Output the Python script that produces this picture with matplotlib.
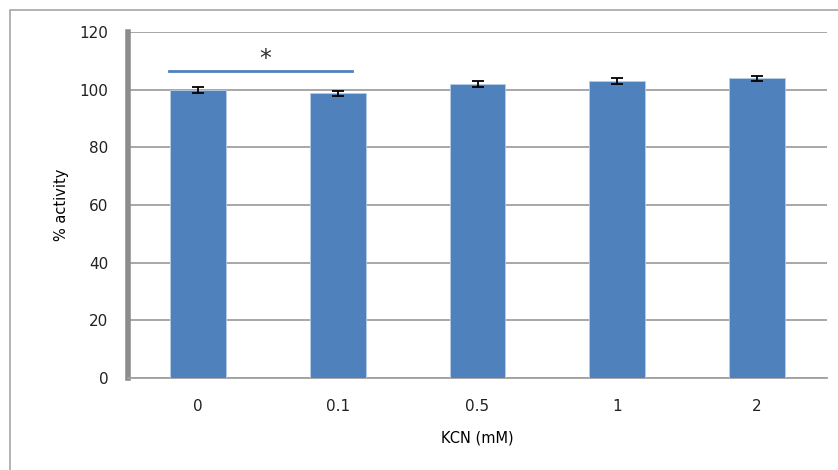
import matplotlib
matplotlib.use("Agg")
import matplotlib.pyplot as plt
from matplotlib.patches import Rectangle

categories = ["0", "0.1", "0.5", "1", "2"]
activity = [100, 98.8, 102, 103, 104]
errors = [1.0, 0.9, 1.1, 1.1, 0.9]
yticks = [0, 20, 40, 60, 80, 100, 120]
sig_line_y = 106.5
sig_star_y = 110.5

fig = plt.figure(figsize=(8.38, 4.70), dpi=100)
fig.patch.set_facecolor("white")
# outer chart frame (cropped at right/bottom)
fig.patches.append(Rectangle((10/838, -0.05), 1.0, (470-10)/470 + 0.05,
                             transform=fig.transFigure, fill=False,
                             edgecolor="#A6A6A6", linewidth=1.2))

ax = fig.add_axes([128/838, (470-378)/470, (827-128)/838, (378-32)/470])
x = list(range(len(categories)))
ax.bar(x, activity, width=0.4, color="#4F81BD", edgecolor="#B9CDE5", linewidth=0.6, zorder=3)
ax.errorbar(x, activity, yerr=errors, fmt="none", ecolor="black", elinewidth=1.3,
            capsize=4, capthick=1.3, zorder=4)

ax.set_xlim(-0.5, len(categories) - 0.5)
ax.set_ylim(0, 120)
ax.set_yticks(yticks)
ax.set_xticks(x)
ax.set_xticklabels(categories)
ax.grid(axis="y", color="#A0A0A0", linewidth=1.3, zorder=0)
ax.tick_params(axis="both", length=0, labelsize=11, colors="#222222")
ax.tick_params(axis="y", pad=14)
ax.tick_params(axis="x", pad=15)

for s in ["top", "right"]:
    ax.spines[s].set_visible(False)
ax.spines["left"].set_color("#8C8C8C")
ax.spines["left"].set_linewidth(4)
ax.spines["bottom"].set_color("#A0A0A0")
ax.spines["bottom"].set_linewidth(1.3)

ax.set_xlabel("KCN (mM)", fontsize=10.5, labelpad=12)
ax.set_ylabel("% activity", fontsize=10.5, labelpad=8)

# significance marker
ax.plot([-0.21, 1.1], [sig_line_y, sig_line_y], color="#4F81BD", linewidth=2, zorder=5)
ax.text(0.48, sig_star_y, "*", ha="center", va="center", fontsize=17, color="#333333")

fig.savefig("out.png", dpi=100)
